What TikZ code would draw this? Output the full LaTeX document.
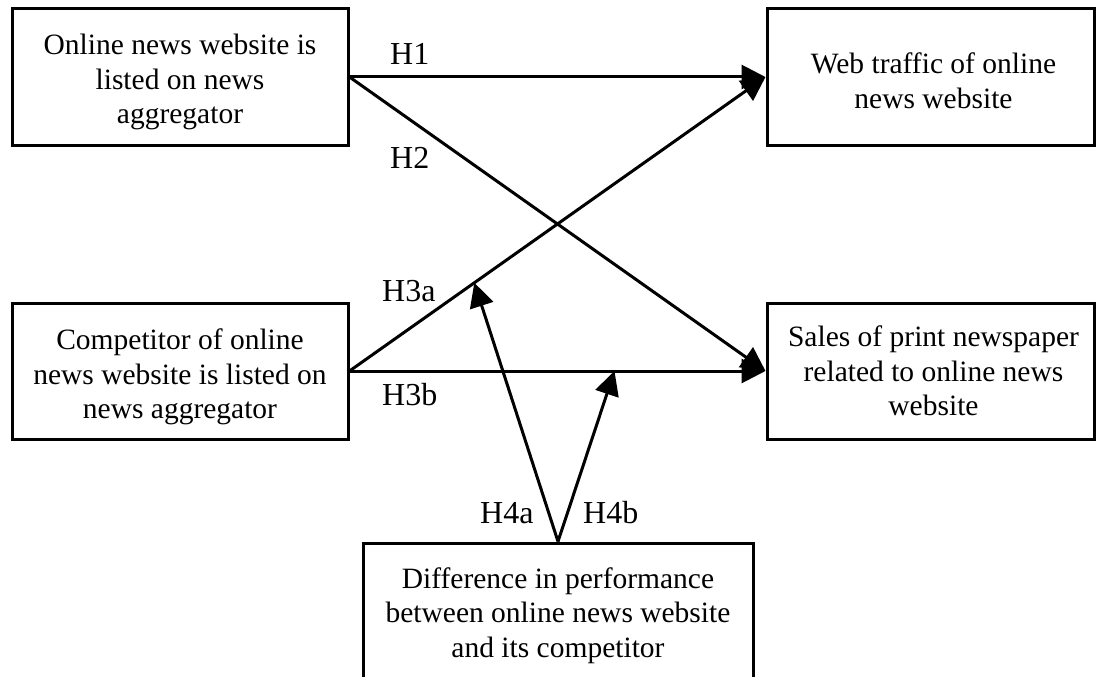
\documentclass[tikz,border=0pt]{standalone}
\usepackage{fontspec}
\setmainfont{Liberation Serif}
\usetikzlibrary{arrows.meta,calc}
\begin{document}
\begin{tikzpicture}[x=1pt,y=-1pt,
  box/.style={draw,line width=3pt,minimum width=336pt,minimum height=136pt,inner sep=0pt},
  txt/.style={align=center,inner sep=0pt,font=\fontsize{29.5}{34.5}\selectfont},
  arr/.style={line width=3pt,-{Triangle[length=24pt,width=24pt]}},
  lab/.style={anchor=base west,inner sep=0pt,font=\fontsize{32}{38}\selectfont}]
\useasboundingbox (0,0) rectangle (1096,677);
\node[box] (TL) at (180,77) {};
\node[box] (ML) at (180,371) {};
\node[box,minimum width=327pt] (TR) at (930.5,77) {};
\node[box,minimum width=327pt] (MR) at (930.5,371) {};
\node[box,minimum width=390pt,minimum height=147pt] (BT) at (558,616.5) {};
\node[txt,yshift=-5pt] (TLt) at (TL.center) {Online news website is\\listed on news\\aggregator};
\node[txt,yshift=-6pt] (MLt) at (ML.center) {Competitor of online\\news website is listed on\\news aggregator};
\node[txt,xshift=3pt,yshift=-4pt] (TRt) at (TR.center) {Web traffic of online\\news website};
\node[txt,xshift=3pt] (MRt) at (MR.center) {Sales of print newspaper\\related to online news\\website};
\node[txt,yshift=1pt] (BTt) at (BT.center) {Difference in performance\\between online news website\\and its competitor};
% connectors
\draw[arr] (TL.east) -- (TL.east -| TR.west);
\draw[arr] (TL.east) -- (ML.east -| MR.west);
\draw[arr] (ML.east) -- (TL.east -| TR.west);
\draw[arr] (ML.east) -- (ML.east -| MR.west);
\path (ML.east) -- (TL.east -| TR.west) coordinate[pos=0.3] (pa);
\path (ML.east) -- (ML.east -| MR.west) coordinate[pos=0.637] (pb);
\draw[arr] (BT.north) -- (pa);
\draw[arr] (BT.north) -- (pb);
% labels
\node[lab] (l1) at (390,65) {H1};
\node[lab] (l2) at (390,168) {H2};
\node[lab] (l3a) at (382,301) {H3a};
\node[lab] (l3b) at (382,405) {H3b};
\node[lab] (l4a) at (480,523) {H4a};
\node[lab] (l4b) at (583,523) {H4b};
\end{tikzpicture}
\end{document}
